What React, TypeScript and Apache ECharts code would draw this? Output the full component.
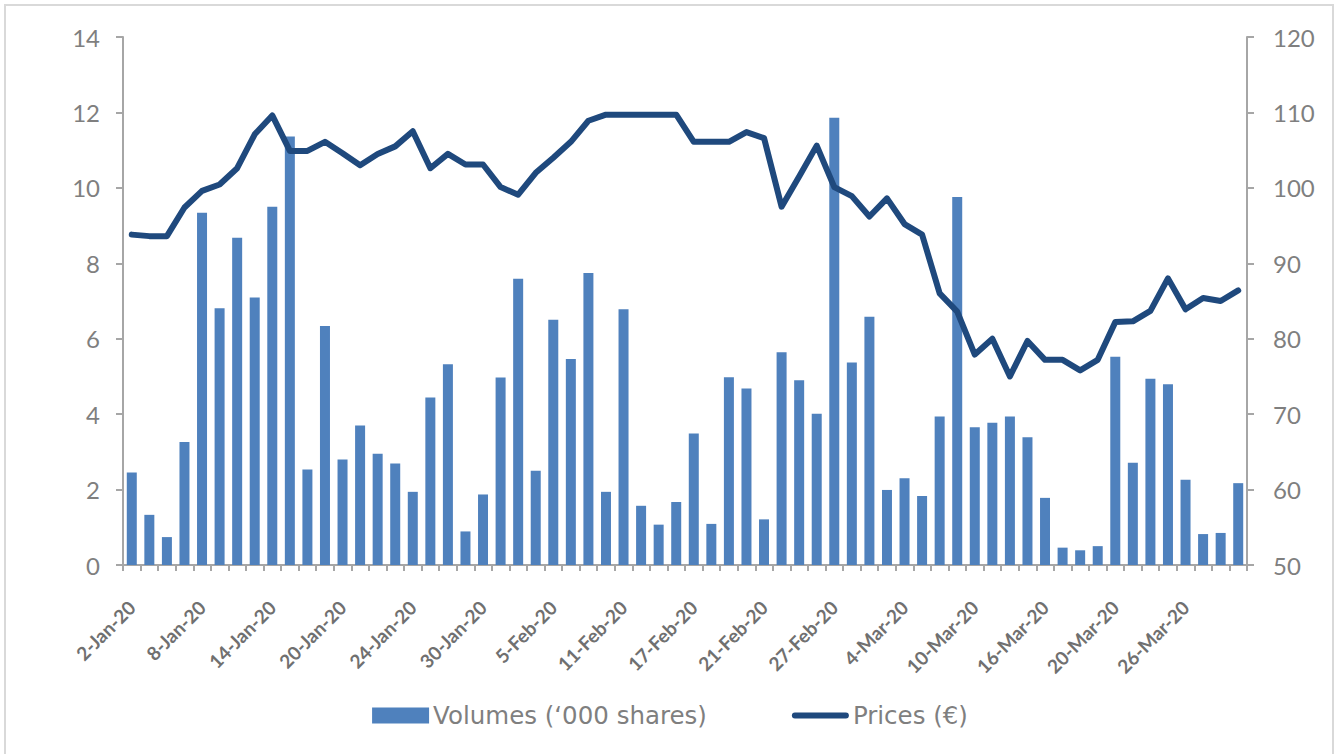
import React, { useEffect, useRef } from "react";
import * as echarts from "echarts";

const categories: string[] = [
  "2-Jan-20", "3-Jan-20", "6-Jan-20", "7-Jan-20", "8-Jan-20", "9-Jan-20", "10-Jan-20", "13-Jan-20",
  "14-Jan-20", "15-Jan-20", "16-Jan-20", "17-Jan-20", "20-Jan-20", "21-Jan-20", "22-Jan-20", "23-Jan-20",
  "24-Jan-20", "27-Jan-20", "28-Jan-20", "29-Jan-20", "30-Jan-20", "31-Jan-20", "3-Feb-20", "4-Feb-20",
  "5-Feb-20", "6-Feb-20", "7-Feb-20", "10-Feb-20", "11-Feb-20", "12-Feb-20", "13-Feb-20", "14-Feb-20",
  "17-Feb-20", "18-Feb-20", "19-Feb-20", "20-Feb-20", "21-Feb-20", "24-Feb-20", "25-Feb-20", "26-Feb-20",
  "27-Feb-20", "28-Feb-20", "2-Mar-20", "3-Mar-20", "4-Mar-20", "5-Mar-20", "6-Mar-20", "9-Mar-20",
  "10-Mar-20", "11-Mar-20", "12-Mar-20", "13-Mar-20", "16-Mar-20", "17-Mar-20", "18-Mar-20", "19-Mar-20",
  "20-Mar-20", "23-Mar-20", "24-Mar-20", "25-Mar-20", "26-Mar-20", "27-Mar-20", "30-Mar-20", "31-Mar-20",
];

const volumes: number[] = [
  2.45, 1.33, 0.74, 3.26, 9.34, 6.81, 8.68, 7.09,
  9.5, 11.36, 2.53, 6.34, 2.8, 3.7, 2.95, 2.69,
  1.94, 4.44, 5.32, 0.89, 1.87, 4.97, 7.59, 2.5,
  6.5, 5.46, 7.74, 1.94, 6.78, 1.57, 1.07, 1.67,
  3.49, 1.09, 4.98, 4.68, 1.21, 5.64, 4.9, 4.01,
  11.86, 5.37, 6.58, 1.99, 2.3, 1.83, 3.94, 9.76,
  3.65, 3.77, 3.94, 3.39, 1.78, 0.46, 0.39, 0.5,
  5.52, 2.71, 4.94, 4.79, 2.26, 0.82, 0.85, 2.17,
];

const prices: number[] = [
  93.8, 93.6, 93.6, 97.4, 99.6, 100.45, 102.6, 107.1,
  109.6, 104.9, 104.9, 106.1, 104.6, 103.0, 104.5, 105.5,
  107.5, 102.6, 104.5, 103.1, 103.1, 100.1, 99.1, 102.0,
  104.0, 106.1, 108.9, 109.7, 109.7, 109.7, 109.7, 109.7,
  106.1, 106.1, 106.1, 107.4, 106.6, 97.5, 101.5, 105.6,
  100.1, 98.9, 96.2, 98.6, 95.2, 93.8, 86.0, 83.6,
  77.9, 80.0, 75.0, 79.7, 77.2, 77.2, 75.8, 77.2,
  82.2, 82.3, 83.7, 88.0, 83.9, 85.4, 85.0, 86.4,
];

const leftTicks = { min: 0, max: 14, interval: 2 };
const rightTicks = { min: 50, max: 120, interval: 10 };

const VOL_NAME = "Volumes (\u2018000 shares)";
const PRICE_NAME = "Prices (\u20ac)";

export default function App() {
  const ref = useRef<HTMLDivElement>(null);
  useEffect(() => {
    if (!ref.current) return;
    const chart = echarts.init(ref.current, null, { renderer: "svg" });
    const axisColor = "#a6a6a6";
    const labelColor = "#7f7f7f";
    const font = "Lato, 'Noto Sans', sans-serif";
    chart.setOption({
      animation: false,
      backgroundColor: "#ffffff",
      graphic: [
        {
          type: "rect",
          shape: { x: 5, y: 5, width: 1328, height: 770 },
          style: { fill: "none", stroke: "#d9d9d9", lineWidth: 2 },
          silent: true,
        },
      ],
      grid: { left: 123, right: 93, top: 37, bottom: 189, containLabel: false },
      legend: {
        top: 698,
        left: "center",
        itemGap: 85,
        itemWidth: 57,
        itemHeight: 16,
        textStyle: {
          color: labelColor,
          fontSize: 24.5,
          fontFamily: "'DejaVu Sans', sans-serif",
          padding: [0, 0, 0, -1],
        },
        data: [
          { name: VOL_NAME, icon: "rect" },
          {
            name: PRICE_NAME,
            icon: "path://M3,0h51a3,3 0 0 1 0,6h-51a3,3 0 0 1 0,-6z",
            itemStyle: { color: "#1f497d" },
          },
        ],
      },
      xAxis: {
        type: "category",
        data: categories,
        boundaryGap: true,
        axisLine: { lineStyle: { color: axisColor, width: 2 } },
        axisTick: { show: true, interval: 0, length: 6, lineStyle: { color: axisColor, width: 2 } },
        axisLabel: {
          interval: 3,
          rotate: 45,
          margin: 39,
          color: "#707070",
          fontSize: 19,
          fontWeight: "bold",
          fontFamily: font,
        },
      },
      yAxis: [
        {
          type: "value",
          min: leftTicks.min,
          max: leftTicks.max,
          interval: leftTicks.interval,
          splitLine: { show: false },
          axisLine: { show: true, lineStyle: { color: axisColor, width: 2 } },
          axisTick: { show: true, length: 7, lineStyle: { color: axisColor, width: 2 } },
          axisLabel: { color: labelColor, fontSize: 24, fontFamily: font, margin: 23 },
        },
        {
          type: "value",
          position: "right",
          min: rightTicks.min,
          max: rightTicks.max,
          interval: rightTicks.interval,
          splitLine: { show: false },
          axisLine: { show: true, lineStyle: { color: axisColor, width: 2 } },
          axisTick: { show: true, length: 7, lineStyle: { color: axisColor, width: 2 } },
          axisLabel: { color: labelColor, fontSize: 24, fontFamily: font, margin: 26 },
        },
      ],
      series: [
        {
          name: VOL_NAME,
          type: "bar",
          yAxisIndex: 0,
          data: volumes,
          barWidth: 10,
          itemStyle: { color: "#4f81bd" },
        },
        {
          name: PRICE_NAME,
          type: "line",
          yAxisIndex: 1,
          data: prices,
          symbol: "none",
          lineStyle: { color: "#1f497d", width: 6, cap: "round", join: "round" },
          itemStyle: { color: "#1f497d" },
        },
      ],
    });
    return () => chart.dispose();
  }, []);
  return (
    <div
      ref={ref}
      style={{ position: "absolute", left: 0, top: 0, width: 1340, height: 754 }}
    />
  );
}
